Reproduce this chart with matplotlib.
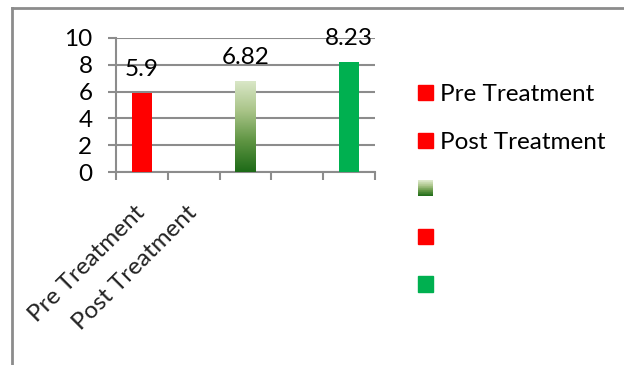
import numpy as np
import matplotlib
matplotlib.use("Agg")
import matplotlib.pyplot as plt
from matplotlib.colors import LinearSegmentedColormap
from matplotlib.patches import Patch, Rectangle
from matplotlib.lines import Line2D
from matplotlib.legend_handler import HandlerBase

# category axis: only the first two slots carry a label
categories = ["Pre Treatment", "Post Treatment", "", "", ""]
# one bar per series, sitting in slots 1, 3 and 5
values = [5.9, np.nan, 6.82, np.nan, 8.23]
legend_labels = ["Pre Treatment", "Post Treatment", " ", " ", " "]

RED = "#ff0000"
GREEN = "#00b050"
GRID = "#8c8c8c"
green_fade = LinearSegmentedColormap.from_list(
    "green_fade", ["#1d6a17", "#5e9442", "#a9c488", "#dbe8c9"])

plt.rcParams["font.family"] = ["Lato", "DejaVu Sans"]
FS = 17.5


class GradientHandler(HandlerBase):
    """Legend key filled with the same vertical fade as the middle bar."""

    def create_artists(self, legend, orig_handle, xdescent, ydescent,
                       width, height, fontsize, trans):
        n = 24
        arts = []
        for i in range(n):
            r = Rectangle((-xdescent, -ydescent + i * height / n), width,
                          height / n + 0.05, facecolor=green_fade(i / (n - 1)),
                          edgecolor="none", transform=trans)
            arts.append(r)
        return arts


class GradientProxy:
    pass


W, H = 624, 365
fig = plt.figure(figsize=(W / 100, H / 100), dpi=100)
ax = fig.add_axes([116 / W, 1 - 172 / H, 259 / W, 134 / H])

x = np.arange(len(categories))
colors = [RED, None, "gradient", None, GREEN]
for xi, v, c in zip(x, values, colors):
    if np.isnan(v):
        continue
    if c == "gradient":
        bar = ax.bar(xi, v, width=0.4, color="none", zorder=3)[0]
        img = ax.imshow(np.linspace(0, 1, 256).reshape(-1, 1), cmap=green_fade,
                        origin="lower", aspect="auto",
                        extent=(xi - 0.2, xi + 0.2, 0, v), zorder=3)
        img.set_clip_path(bar)
    else:
        ax.bar(xi, v, width=0.4, color=c, zorder=3)
    ax.annotate(f"{v:g}", (xi, v), xytext=(0, 12), textcoords="offset points",
                ha="center", va="baseline", fontsize=FS)

ax.set_xlim(-0.5, 4.5)
ax.set_ylim(0, 10)
ax.set_yticks(np.arange(0, 11, 2))
ax.yaxis.grid(True, color=GRID, linewidth=1.5, zorder=0)
ax.set_axisbelow(True)

for s in ["top", "right"]:
    ax.spines[s].set_visible(False)
for s in ["left", "bottom"]:
    ax.spines[s].set_color(GRID)
    ax.spines[s].set_linewidth(1.5)

ax.tick_params(axis="y", length=6, width=1.5, color=GRID, pad=11, labelsize=FS)

ax.set_xticks(x[:2])
ax.set_xticklabels(categories[:2], rotation=45, ha="right", va="center",
                   rotation_mode="anchor", fontsize=FS, color="#222222")
ax.set_xticks(np.arange(-0.5, 5, 1), minor=True)
ax.tick_params(axis="x", which="major", length=0, pad=27)
ax.tick_params(axis="x", which="minor", length=6, width=1.5, color=GRID)

handles = [Patch(color=RED), Patch(color=RED), GradientProxy(),
           Patch(color=RED), Patch(color=GREEN)]
fig.legend(handles, legend_labels, loc="upper left",
           bbox_to_anchor=(418 / W, 1 - 84 / H), frameon=False, fontsize=FS,
           handlelength=0.62, handleheight=0.62, handletextpad=0.3,
           labelspacing=1.11, borderpad=0, borderaxespad=0,
           handler_map={GradientProxy: GradientHandler()})

# chart-area border, open to the right and bottom
fig.add_artist(Line2D([12 / W, 12 / W], [0, 1 - 8 / H], color=GRID, lw=2))
fig.add_artist(Line2D([12 / W, 1], [1 - 8 / H, 1 - 8 / H], color=GRID, lw=2))

fig.savefig("out.png", dpi=100)
